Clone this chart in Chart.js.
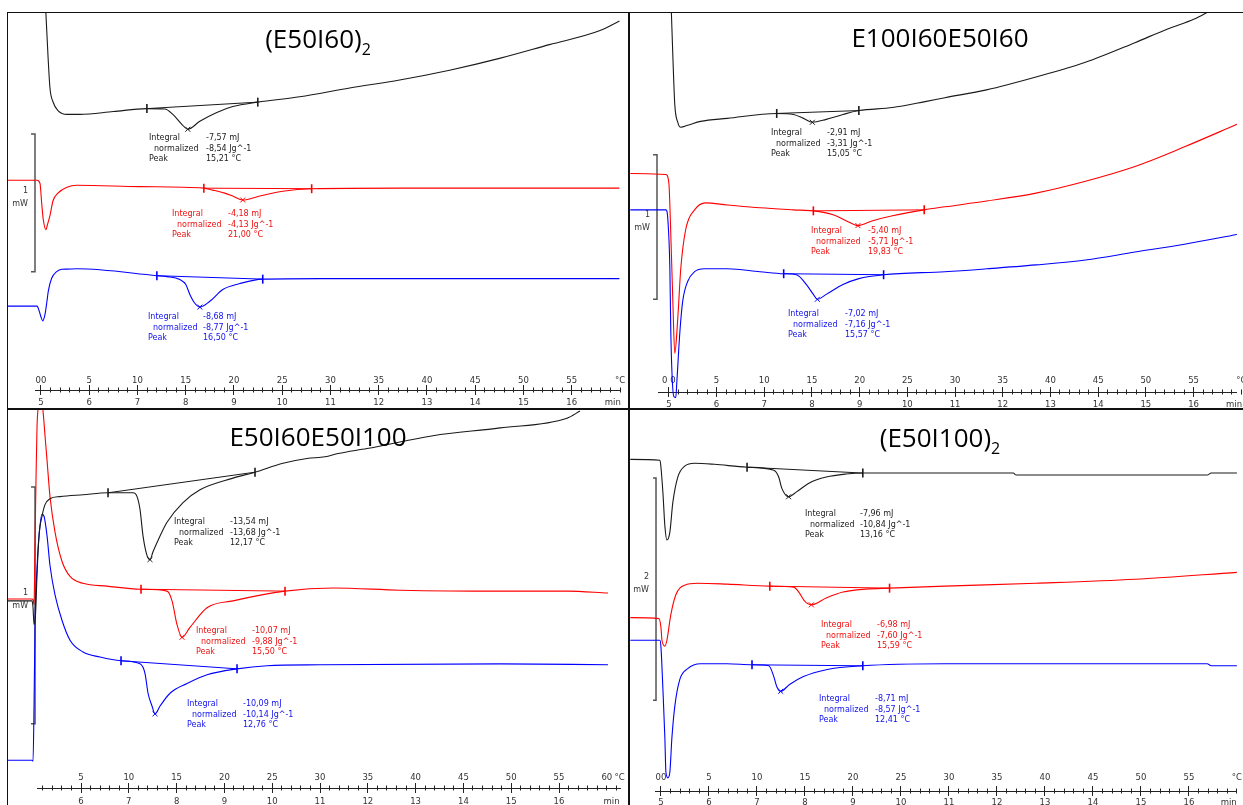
<!DOCTYPE html>
<html>
<head>
<meta charset="utf-8">
<script src="https://cdn.jsdelivr.net/npm/chart.js@4.4.1/dist/chart.umd.min.js"></script>
<style>
html, body { margin: 0; padding: 0; background: #fff; }
#fig { position: relative; width: 1243px; height: 805px; overflow: hidden; background: #fff; }
.panel { position: absolute; }
.panel canvas { position: absolute; left: 0; top: 0; }
.title { position: absolute; z-index: 2; font-family: 'Open Sans', sans-serif; font-size: 26px; line-height: 1;
  color: #000; white-space: nowrap; transform: translate(-50%, -50%); }
.title sub { font-size: 16px; line-height: 0; vertical-align: -7px; }
.rule { position: absolute; background: #111; z-index: 3; }
</style>
</head>
<body>
<div id="fig">
  <div class="panel" style="left:8px;top:13px;width:620px;height:395px"><canvas id="c1" width="620" height="395"></canvas></div>
  <div class="panel" style="left:630px;top:13px;width:613px;height:395px"><canvas id="c2" width="613" height="395"></canvas></div>
  <div class="panel" style="left:8px;top:410px;width:620px;height:395px"><canvas id="c3" width="620" height="395"></canvas></div>
  <div class="panel" style="left:630px;top:410px;width:613px;height:395px"><canvas id="c4" width="613" height="395"></canvas></div>

  <div class="title" style="left:318px;top:38px">(E50I60)<sub>2</sub></div>
  <div class="title" style="left:940px;top:37px">E100I60E50I60</div>
  <div class="title" style="left:318px;top:436px">E50I60E50I100</div>
  <div class="title" style="left:940px;top:437px">(E50I100)<sub>2</sub></div>

  <div class="rule" style="left:7px;top:12px;width:1236px;height:1px"></div>
  <div class="rule" style="left:7px;top:12px;width:1px;height:793px"></div>
  <div class="rule" style="left:628px;top:12px;width:2px;height:793px"></div>
  <div class="rule" style="left:7px;top:408px;width:1236px;height:2px"></div>
</div>
<script>
// time in min, heat flow in mW (offset per curve as plotted)

// ---- (E50I60)2 ----
const p1Black = [[5.09,2.70],[5.145,2.307],[5.186,2.071],[5.248,1.971],[5.352,1.907],[5.538,1.879],[5.807,1.879],[6.5,1.90],
  [7.195,1.921],[7.567,1.918],[7.733,1.879],[7.919,1.807],[8.043,1.771],[8.292,1.829],[8.644,1.893],[8.975,1.936],
  [9.493,1.968],[10.362,2.007],[11.398,2.071],[12.433,2.129],[13.468,2.2],[14.503,2.286],[15.538,2.386],[16.573,2.486],[16.988,2.557]];
const p1Red = [[4.296,1.4],[4.917,1.4],[4.979,1.379],[5.014,1.236],[5.048,1.114],[5.104,1.041],[5.135,1.079],[5.186,1.143],
  [5.248,1.25],[5.352,1.307],[5.538,1.35],[5.745,1.364],[7.05,1.354],[8.375,1.343],[8.561,1.329],[8.81,1.307],[8.975,1.286],
  [9.182,1.257],[9.534,1.286],[10.01,1.321],[10.61,1.339],[12.433,1.343],[16.988,1.343]];
const p1Blue = [[4.296,0.486],[4.917,0.486],[4.944,0.471],[4.994,0.414],[5.035,0.379],[5.083,0.426],[5.124,0.521],[5.151,0.593],
  [5.221,0.688],[5.325,0.736],[5.435,0.754],[5.532,0.755],[5.745,0.757],[7.402,0.707],[7.609,0.7],[7.878,0.679],[8.002,0.643],
  [8.085,0.571],[8.188,0.507],[8.292,0.479],[8.499,0.521],[8.768,0.607],[9.12,0.65],[9.596,0.682],[10.776,0.686],[16.988,0.686]];
const p1Limits = [[[7.195,1.921],[9.493,1.968]], [[8.375,1.343],[10.61,1.339]], [[7.402,0.707],[9.596,0.682]]];
const p1Peaks = [[8.043,1.771],[9.182,1.257],[8.292,0.479]];
const p1Integral = [-7.57, -4.18, -8.68];
const p1Normalized = [-8.54, -4.13, -8.77];
const p1PeakTemp = [15.21, 21.00, 16.50];

// ---- E100I60E50I60 ----
const p2Black = [[5.052,2.5],[5.083,2.197],[5.124,1.857],[5.187,1.735],[5.249,1.701],[5.394,1.714],[5.664,1.741],[6.224,1.762],
  [7.261,1.796],[7.614,1.789],[7.822,1.762],[8.008,1.735],[8.299,1.755],[8.651,1.789],[8.983,1.816],[9.689,1.837],[10.373,1.878],
  [10.788,1.905],[11.66,1.959],[12.697,2.048],[13.734,2.15],[14.772,2.286],[15.456,2.381],[16.017,2.449],[16.328,2.503]];
const p2Red = [[4.191,1.381],[4.938,1.374],[5.0,1.313],[5.041,0.952],[5.083,0.497],[5.124,0.136],[5.187,0.381],[5.249,0.721],
  [5.353,0.993],[5.539,1.129],[5.768,1.177],[6.224,1.163],[6.909,1.143],[7.614,1.129],[8.029,1.122],[8.444,1.095],[8.714,1.054],
  [8.963,1.02],[9.274,1.054],[9.689,1.088],[10.353,1.129],[10.788,1.15],[11.66,1.19],[12.697,1.245],[13.734,1.327],[14.772,1.429],
  [15.809,1.565],[16.909,1.721]];
const p2Blue = [[4.191,1.129],[4.938,1.129],[4.979,1.061],[5.021,0.721],[5.041,0.272],[5.104,-0.163],[5.145,-0.17],[5.166,-0.068],
  [5.228,0.272],[5.29,0.497],[5.394,0.633],[5.539,0.701],[5.747,0.721],[6.224,0.721],[6.909,0.701],[7.407,0.687],[7.676,0.68],
  [7.884,0.612],[8.029,0.544],[8.112,0.51],[8.299,0.544],[8.651,0.612],[8.983,0.653],[9.502,0.68],[10.788,0.701],[11.66,0.721],
  [12.697,0.748],[13.734,0.782],[14.772,0.837],[15.809,0.891],[16.909,0.959]];
const p2Limits = [[[7.261,1.796],[8.983,1.816]], [[8.029,1.122],[10.353,1.129]], [[7.407,0.687],[9.502,0.68]]];
const p2Peaks = [[8.008,1.735],[8.963,1.02],[8.112,0.51]];
const p2Integral = [-2.91, -5.40, -7.02];
const p2Normalized = [-3.31, -5.71, -7.16];
const p2PeakTemp = [15.05, 19.83, 15.57];

// ---- E50I60E50I100 ----
const p3Black = [[4.452,0.714],[4.975,0.714],[4.996,0.685],[5.017,0.614],[5.048,0.656],[5.079,0.822],[5.121,0.988],[5.184,1.071],
  [5.247,1.12],[5.351,1.145],[5.561,1.154],[6.042,1.162],[6.565,1.17],[7.088,1.17],[7.172,1.154],[7.234,1.1],[7.297,0.988],
  [7.381,0.905],[7.443,0.888],[7.506,0.921],[7.653,0.988],[7.799,1.046],[8.134,1.129],[8.49,1.183],[9.18,1.232],[9.64,1.257],
  [10.226,1.295],[10.728,1.315],[11.105,1.322],[11.38,1.336],[11.983,1.357],[13.364,1.411],[14.766,1.444],[16.167,1.485],[16.439,1.515]];
const p3Red = [[4.452,0.722],[4.975,0.722],[4.996,0.718],[5.017,0.697],[5.038,0.963],[5.059,1.237],[5.079,1.444],[5.121,1.556],
  [5.163,1.577],[5.205,1.515],[5.247,1.411],[5.289,1.307],[5.351,1.154],[5.456,1.004],[5.603,0.88],[5.77,0.817],[6.042,0.788],
  [6.544,0.776],[7.255,0.763],[7.799,0.755],[7.904,0.714],[8.008,0.614],[8.113,0.56],[8.28,0.602],[8.636,0.685],[9.18,0.714],
  [10.268,0.755],[11.272,0.768],[12.674,0.759],[14.766,0.755],[16.167,0.755],[17.025,0.747]];
const p3Blue = [[4.452,0.041],[4.975,0.041],[4.996,0.037],[5.017,0.27],[5.038,0.614],[5.079,0.851],[5.121,0.988],[5.184,1.079],
  [5.226,1.071],[5.289,0.988],[5.351,0.863],[5.456,0.739],[5.603,0.631],[5.77,0.548],[6.042,0.498],[6.397,0.477],[6.837,0.461],
  [7.234,0.448],[7.339,0.407],[7.402,0.324],[7.485,0.27],[7.548,0.237],[7.653,0.27],[7.862,0.324],[8.218,0.365],[8.636,0.402],
  [9.264,0.427],[9.891,0.44],[11.0,0.444],[14.766,0.448],[17.025,0.444]];
const p3Limits = [[[6.565,1.17],[9.64,1.257]], [[7.255,0.763],[10.268,0.755]], [[6.837,0.461],[9.264,0.427]]];
const p3Peaks = [[7.443,0.888],[8.113,0.56],[7.548,0.237]];
const p3Integral = [-13.54, -10.07, -10.09];
const p3Normalized = [-13.68, -9.88, -10.14];
const p3PeakTemp = [12.17, 15.50, 12.76];

// ---- (E50I100)2 ----
const p4Black = [[4.361,2.796],[4.979,2.788],[5.0,2.726],[5.041,2.496],[5.082,2.195],[5.124,2.071],[5.186,2.142],[5.247,2.407],
  [5.351,2.637],[5.495,2.735],[5.701,2.761],[6.113,2.752],[6.794,2.726],[7.351,2.699],[7.454,2.637],[7.515,2.54],[7.66,2.46],
  [7.825,2.504],[8.093,2.584],[8.443,2.637],[8.856,2.664],[9.206,2.673],[12.34,2.673],[12.402,2.655],[16.381,2.655],[16.464,2.673],[17.0,2.673]];
const p4Red = [[4.361,1.372],[4.959,1.363],[5.0,1.283],[5.021,1.168],[5.082,1.115],[5.124,1.168],[5.206,1.398],[5.309,1.575],
  [5.495,1.664],[5.763,1.681],[6.381,1.673],[7.268,1.655],[7.763,1.646],[7.887,1.593],[7.99,1.522],[8.134,1.487],[8.443,1.549],
  [8.794,1.602],[9.268,1.628],[9.763,1.637],[10.918,1.655],[12.814,1.681],[14.876,1.717],[17.0,1.779]];
const p4Blue = [[4.361,1.168],[4.979,1.168],[5.0,1.106],[5.041,0.726],[5.082,0.283],[5.103,-0.018],[5.144,-0.071],[5.186,-0.018],
  [5.227,0.283],[5.289,0.575],[5.392,0.814],[5.557,0.912],[5.825,0.956],[6.381,0.956],[6.897,0.947],[7.247,0.938],[7.351,0.841],
  [7.412,0.752],[7.495,0.708],[7.68,0.77],[7.969,0.841],[8.443,0.903],[9.206,0.938],[10.918,0.956],[16.381,0.956],[16.464,0.938],[17.0,0.938]];
const p4Limits = [[[6.794,2.726],[9.206,2.673]], [[7.268,1.655],[9.763,1.637]], [[6.897,0.947],[9.206,0.938]]];
const p4Peaks = [[7.66,2.46],[8.134,1.487],[7.495,0.708]];
const p4Integral = [-7.96, -6.98, -8.71];
const p4Normalized = [-10.84, -7.60, -8.57];
const p4PeakTemp = [13.16, 15.59, 12.41];

// scale bars (mW)
const scaleBarMW = [1, 1, 1, 2];

// axis tick labels
const minuteTicks = [5, 6, 7, 8, 9, 10, 11, 12, 13, 14, 15, 16];
const minuteTicks3 = [6, 7, 8, 9, 10, 11, 12, 13, 14, 15, 16];
const tempTickPos = [5, 6, 7, 8, 9, 10, 11, 12, 13, 14, 15, 16, 17];
const tempLabels = ['00', '5', '10', '15', '20', '25', '30', '35', '40', '45', '50', '55', '°C'];
const tempLabels2 = ['0 0', '5', '10', '15', '20', '25', '30', '35', '40', '45', '50', '55', '°C'];
const tempTickPos3 = [6, 7, 8, 9, 10, 11, 12, 13, 14, 15, 16, 17, 17.27];
const tempLabels3 = ['5', '10', '15', '20', '25', '30', '35', '40', '45', '50', '55', '60', '°C'];

const colors = ['#1a1a1a', '#ff0000', '#0000ff'];
const textColors = ['#222', '#ee1111', '#1111ee'];
const tickFont = { family: 'DejaVu Sans', size: 8.5 };

const panels = [
  { id: 'c1', curves: [p1Black, p1Red, p1Blue], limits: p1Limits, peaks: p1Peaks,
    integral: p1Integral, normalized: p1Normalized, peakTemp: p1PeakTemp,
    xMin: 4.876, xMax: 17.0, yMax: 360 / 140, padL: 27, padR: 8, hC: 17, hX: 18, labPad: 3,
    minutes: minuteTicks, unitPos: 16.85, temps: tempTickPos, tempText: tempLabels, minorFrom: 5, minorTo: 17,
    bar: { x: 4.876, tick: 4.793, bottom: 0.736, mw: scaleBarMW[0] },
    blocks: [{ x: 141, y: 125, vx: 198 }, { x: 164, y: 201, vx: 220 }, { x: 140, y: 304, vx: 195 }] },
  { id: 'c2', curves: [p2Black, p2Red, p2Blue], limits: p2Limits, peaks: p2Peaks,
    integral: p2Integral, normalized: p2Normalized, peakTemp: p2PeakTemp,
    xMin: 4.772, xMax: 16.909, yMax: 360 / 147, padL: 28, padR: 0, hC: 19, hX: 16, labPad: 3,
    minutes: minuteTicks, unitPos: 16.85, temps: tempTickPos, tempText: tempLabels2, minorFrom: 5, minorTo: 17,
    bar: { x: 4.751, tick: 4.668, bottom: 0.51, mw: scaleBarMW[1] },
    blocks: [{ x: 141, y: 120, vx: 197 }, { x: 181, y: 218, vx: 238 }, { x: 158, y: 301, vx: 215 }] },
  { id: 'c3', curves: [p3Black, p3Red, p3Blue], limits: p3Limits, peaks: p3Peaks,
    integral: p3Integral, normalized: p3Normalized, peakTemp: p3PeakTemp,
    xMin: 5.079, xMax: 17.276, yMax: 360 / 241, padL: 29, padR: 8, hC: 18, hX: 17, labPad: 4,
    minutes: minuteTicks3, unitPos: 17.1, temps: tempTickPos3, tempText: tempLabels3, minorFrom: 5.2, minorTo: 17.2,
    bar: { x: 5.038, tick: 4.954, bottom: 0.195, mw: scaleBarMW[2] },
    blocks: [{ x: 166, y: 112, vx: 222 }, { x: 188, y: 221, vx: 244 }, { x: 179, y: 294, vx: 235 }] },
  { id: 'c4', curves: [p4Black, p4Red, p4Blue], limits: p4Limits, peaks: p4Peaks,
    integral: p4Integral, normalized: p4Normalized, peakTemp: p4PeakTemp,
    xMin: 4.876, xMax: 17.0, yMax: 360 / 113, padL: 25, padR: 0, hC: 21, hX: 14, labPad: 2,
    minutes: minuteTicks, unitPos: 16.83, temps: tempTickPos, tempText: tempLabels, minorFrom: 5, minorTo: 17,
    bar: { x: 4.897, tick: 4.835, bottom: 0.628, mw: scaleBarMW[3] },
    blocks: [{ x: 175, y: 104, vx: 230 }, { x: 191, y: 215, vx: 247 }, { x: 189, y: 289, vx: 245 }] }
];

const pts = a => a.map(p => ({ x: p[0], y: p[1] }));
const comma = n => n.toFixed(2).replace('.', ',');

function buildScales(p) {
  const minor = [];
  for (let v = p.minorFrom; v <= p.minorTo + 1e-6; v += 0.2) minor.push(Math.round(v * 100) / 100);
  const setTicks = vals => s => { s.ticks = vals.map(v => ({ value: v })); };
  const fixH = h => s => { s.height = h; s.paddingLeft = 0; s.paddingRight = 0; };
  const base = { type: 'linear', axis: 'x', position: 'bottom', min: p.xMin, max: p.xMax };
  // zero-height axes only used to draw tick marks crossing the axis line
  const marks = (w, vals, len) => Object.assign({}, base, {
    weight: w, afterBuildTicks: setTicks(vals), afterFit: fixH(0),
    border: { display: false },
    grid: { drawOnChartArea: false, drawTicks: true, tickLength: len, tickColor: '#222', tickWidth: 1 },
    ticks: { display: false, autoSkip: false }
  });
  const minuteVals = p.minutes.concat([p.unitPos]);
  return {
    xc: Object.assign({}, base, {
      weight: 1, afterBuildTicks: setTicks(p.temps), afterFit: fixH(p.hC),
      border: { display: false }, grid: { display: false, drawTicks: false, tickLength: 0 },
      ticks: { autoSkip: false, maxRotation: 0, padding: 3, color: '#333', font: tickFont,
        callback: (v, i) => p.tempText[i] }
    }),
    xu1: marks(2, minor, -2.5),
    xu2: marks(3, p.minutes, -5),
    xd1: marks(4, minor, 2.5),
    // range set after data limits so that points left of the axis start are still drawn
    x: {
      type: 'linear', axis: 'x', position: 'bottom', bounds: 'data',
      afterDataLimits: s => { s.min = p.xMin; s.max = p.xMax; },
      weight: 5, afterBuildTicks: setTicks(minuteVals), afterFit: fixH(p.hX),
      border: { display: true, color: '#222', width: 1 },
      grid: { drawOnChartArea: false, drawTicks: true, tickLength: 5, tickWidth: 1,
        tickColor: c => Number.isInteger(c.tick.value) ? '#222' : 'rgba(0,0,0,0)' },
      ticks: { autoSkip: false, maxRotation: 0, padding: p.labPad, color: '#333', font: tickFont,
        callback: (v, i) => i < p.minutes.length ? String(p.minutes[i]) : 'min' }
    },
    y: { type: 'linear', display: false, min: 0, max: p.yMax }
  };
}

function textPlugin(p) {
  return {
    id: 'dscText',
    afterDatasetsDraw(chart) {
      const ctx = chart.ctx;
      ctx.save();
      ctx.font = '8px "DejaVu Sans"';
      ctx.textBaseline = 'middle';
      ctx.textAlign = 'left';
      p.blocks.forEach((b, i) => {
        ctx.fillStyle = textColors[i];
        ctx.fillText('Integral', b.x, b.y);
        ctx.fillText('normalized', b.x + 5, b.y + 10.5);
        ctx.fillText('Peak', b.x, b.y + 21);
        ctx.fillText(comma(p.integral[i]) + ' mJ', b.vx, b.y);
        ctx.fillText(comma(p.normalized[i]) + ' Jg^-1', b.vx, b.y + 10.5);
        ctx.fillText(comma(p.peakTemp[i]) + ' °C', b.vx, b.y + 21);
      });
      const bx = chart.scales.x.getPixelForValue(p.bar.x);
      const my = chart.scales.y.getPixelForValue(p.bar.bottom + p.bar.mw / 2);
      ctx.fillStyle = '#333';
      ctx.textAlign = 'right';
      ctx.fillText(String(p.bar.mw), bx - 7, my - 12);
      ctx.fillText('mW', bx - 7, my + 1);
      ctx.restore();
    }
  };
}

function buildDatasets(p) {
  const ds = [];
  p.curves.forEach((c, i) => {
    ds.push({ data: pts(c), borderColor: colors[i], borderWidth: 1.1, pointRadius: 0,
      cubicInterpolationMode: 'monotone', clip: false, xAxisID: 'x', yAxisID: 'y' });
  });
  p.limits.forEach((l, i) => {
    ds.push({ data: pts(l), borderColor: colors[i], borderWidth: 1, pointStyle: 'line', rotation: 90,
      pointRadius: 4.5, pointBorderWidth: 1.6, pointBorderColor: colors[i], clip: false, xAxisID: 'x', yAxisID: 'y' });
  });
  p.peaks.forEach((pk, i) => {
    ds.push({ data: pts([pk]), showLine: false, pointStyle: 'crossRot', pointRadius: 3.5,
      pointBorderWidth: 1, pointBorderColor: colors[i], clip: false, xAxisID: 'x', yAxisID: 'y' });
  });
  const b = p.bar;
  ds.push({ data: pts([[b.tick, b.bottom + b.mw], [b.x, b.bottom + b.mw], [b.x, b.bottom], [b.tick, b.bottom]]),
    borderColor: '#555', borderWidth: 1.5, pointRadius: 0, clip: false, xAxisID: 'x', yAxisID: 'y' });
  return ds;
}

panels.forEach(p => {
  new Chart(document.getElementById(p.id), {
    type: 'line',
    data: { datasets: buildDatasets(p) },
    options: {
      responsive: false,
      animation: false,
      devicePixelRatio: 1,
      events: [],
      layout: { padding: { left: p.padL, right: p.padR, top: 0, bottom: 0 } },
      plugins: { legend: { display: false }, tooltip: { enabled: false } },
      scales: buildScales(p)
    },
    plugins: [textPlugin(p)]
  });
});
</script>
</body>
</html>
